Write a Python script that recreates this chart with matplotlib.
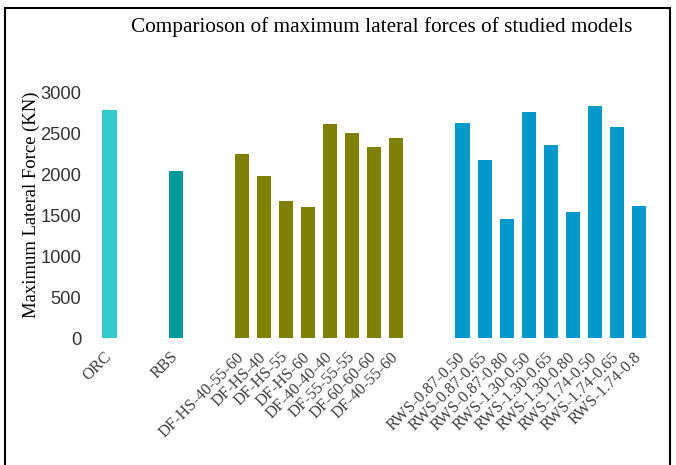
import matplotlib.pyplot as plt
import numpy as np

# Model groups and maximum lateral forces (KN)
orc_labels = ['ORC']
orc_values = [2780]

rbs_labels = ['RBS']
rbs_values = [2035]

df_labels = ['DF-HS-40-55-60', 'DF-HS-40', 'DF-HS-55', 'DF-HS-60',
             'DF-40-40-40', 'DF-55-55-55', 'DF-60-60-60', 'DF-40-55-60']
df_values = [2245, 1975, 1670, 1598, 2610, 2500, 2330, 2440]

rws_labels = ['RWS-0.87-0.50', 'RWS-0.87-0.65', 'RWS-0.87-0.80', 'RWS-1.30-0.50',
              'RWS-1.30-0.65', 'RWS-1.30-0.80', 'RWS-1.74-0.50', 'RWS-1.74-0.65',
              'RWS-1.74-0.8']
rws_values = [2622, 2170, 1450, 2755, 2355, 1537, 2830, 2573, 1610]

groups = [
    (orc_labels, orc_values, '#33CCCC'),
    (rbs_labels, rbs_values, '#009999'),
    (df_labels, df_values, '#808000'),
    (rws_labels, rws_values, '#0099CC'),
]

fig = plt.figure(figsize=(6.76, 4.65), dpi=100)
ax = fig.add_axes([0.126, 0.273, 0.852, 0.529])

# bars are placed on slots, with two empty slots between groups
pos = 0
tick_pos, tick_lab = [], []
for labels, values, color in groups:
    x = np.arange(len(labels)) + pos
    ax.bar(x, values, width=0.64, color=color)
    tick_pos += list(x)
    tick_lab += labels
    pos = x[-1] + 3

ax.set_xlim(-1.1, pos - 2)
ax.set_ylim(0, 3000)
ax.set_yticks(np.arange(0, 3001, 500))
ax.set_xticks(tick_pos)
ax.set_xticklabels(tick_lab, rotation=45, ha='right', va='center', rotation_mode='anchor',
                   family='Liberation Serif', fontsize=11.8, color='#404040')
for lab in ax.get_yticklabels():
    lab.set_family('Liberation Sans')
    lab.set_fontsize(13.2)
    lab.set_color('#333333')
ax.tick_params(length=0)
ax.tick_params(axis='y', pad=3)
ax.tick_params(axis='x', pad=12)
for s in ax.spines.values():
    s.set_visible(False)

ax.set_ylabel('Maximum Lateral Force (KN)', family='Liberation Serif', fontsize=13.4)
ax.yaxis.set_label_coords(-0.079, 0.54)

fig.text(0.564, 0.942, 'Comparioson of maximum lateral forces of studied models',
         ha='center', va='center', family='Liberation Serif', fontsize=15.3)

# frame around the figure
fig.patches.append(plt.Rectangle((0.008, -0.02), 0.983, 1.003, transform=fig.transFigure,
                                 fill=False, edgecolor='black', linewidth=1.5))

fig.savefig('out.png', dpi=100)
